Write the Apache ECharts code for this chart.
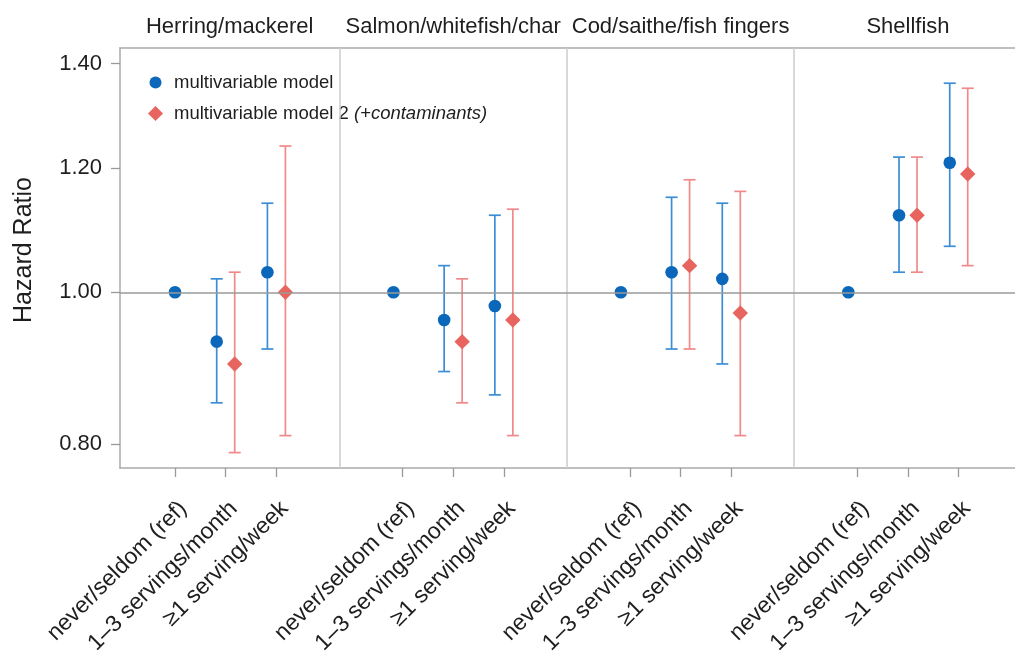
<!DOCTYPE html>
<html>
<head>
<meta charset="utf-8">
<script src="https://cdn.jsdelivr.net/npm/echarts@6/dist/echarts.min.js"></script>
<style>html,body{margin:0;padding:0;background:#fff}#c{width:1015px;height:651px}</style>
</head>
<body>
<div id="c"></div>
<script>
// ---- data ----
const panels = ['Herring/mackerel', 'Salmon/whitefish/char', 'Cod/saithe/fish fingers', 'Shellfish'];
const categories = ['never/seldom (ref)', '1\u20133 servings/month', '\u22651 serving/week'];
const seriesNames = ['multivariable model', 'multivariable model 2 (+contaminants)'];
const yTicks = [0.80, 1.00, 1.20, 1.40];
// values panel-major: [panel0 cat0, cat1, cat2, panel1 cat0, ...]
const m1HR = [1.00, 0.93, 1.03,  1.00, 0.96, 0.98,  1.00, 1.03, 1.02,  1.00, 1.12, 1.21];
const m1Lo = [null, 0.85, 0.92,  null, 0.89, 0.86,  null, 0.92, 0.90,  null, 1.03, 1.07];
const m1Hi = [null, 1.02, 1.14,  null, 1.04, 1.12,  null, 1.15, 1.14,  null, 1.22, 1.36];
const m2HR = [null, 0.90, 1.00,  null, 0.93, 0.96,  null, 1.04, 0.97,  null, 1.12, 1.19];
const m2Lo = [null, 0.79, 0.81,  null, 0.85, 0.81,  null, 0.92, 0.81,  null, 1.03, 1.04];
const m2Hi = [null, 1.03, 1.24,  null, 1.02, 1.13,  null, 1.18, 1.16,  null, 1.22, 1.35];

// ---- layout constants ----
const PANEL_SPAN = 4.486;
const X_MIN = -1.085, X_MAX = 16.568;
const Y_MIN_HR = 0.7723, Y_MAX_HR = 1.4323;
const REF_SHIFT = [0, -9, -9, -9];
const SHIFT = 9;
const FONT = '"Liberation Sans", Arial, sans-serif';
const TXT = '#1e1e1e';
const blueMark = '#0b67b9', blueLine = '#3b8ed6';
const redMark = '#e8645f', redLine = '#f08a8a';

const ln = v => (v == null ? NaN : Math.log(v));
const xPos = (p, c) => p * PANEL_SPAN + c;

const catPositions = [], catLabelMap = {};
panels.forEach((_, p) => categories.forEach((c, ci) => {
  const v = xPos(p, ci); catPositions.push(v); catLabelMap[v.toFixed(3)] = c;
}));
const separators = panels.slice(0, -1).map((_, p) => xPos(p, 1) + PANEL_SPAN / 2);
// panel titles centred on the visible part of each panel
const panelCenters = panels.map((_, p) => {
  const lo = Math.max(X_MIN, xPos(p, 1) - PANEL_SPAN / 2);
  const hi = xPos(p, 1) + PANEL_SPAN / 2;
  return (lo + hi) / 2;
});
const panelLabelMap = {};
panels.forEach((n, p) => panelLabelMap[panelCenters[p].toFixed(3)] = n);

function buildData(hr, lo, hi) {
  return hr.map((v, i) => [catPositions[i], ln(v), ln(lo[i]), ln(hi[i])]);
}

function makeRender(kind) {
  return function (params, api) {
    const i = params.dataIndex;
    const y = api.value(1);
    if (isNaN(y)) return null;
    const x = api.value(0);
    const panel = Math.floor(i / 3), cat = i % 3;
    const shift = kind === 1 ? (cat === 0 ? REF_SHIFT[panel] : -SHIFT) : SHIFT;
    const pt = api.coord([x, y]);
    const cx = pt[0] + shift, cy = pt[1];
    const children = [];
    const lineColor = kind === 1 ? blueLine : redLine;
    const markColor = kind === 1 ? blueMark : redMark;
    const lo = api.value(2), hi = api.value(3);
    if (!isNaN(lo) && !isNaN(hi)) {
      const yl = api.coord([x, lo])[1], yh = api.coord([x, hi])[1];
      const ls = { stroke: lineColor, lineWidth: 1.7 };
      children.push({ type: 'line', shape: { x1: cx, y1: yl, x2: cx, y2: yh }, style: ls });
      children.push({ type: 'line', shape: { x1: cx - 6, y1: yl, x2: cx + 6, y2: yl }, style: ls });
      children.push({ type: 'line', shape: { x1: cx - 6, y1: yh, x2: cx + 6, y2: yh }, style: ls });
    }
    if (kind === 1) {
      children.push({ type: 'circle', shape: { cx: cx, cy: cy, r: 6.3 }, style: { fill: markColor } });
    } else {
      const h = 7.7;
      children.push({ type: 'polygon', shape: { points: [[cx, cy - h], [cx + h, cy], [cx, cy + h], [cx - h, cy]] }, style: { fill: markColor } });
    }
    return { type: 'group', children: children };
  };
}

const circleIcon = 'path://M0,0M15,15M1.5,7.5A6,6 0 1,1 13.5,7.5A6,6 0 1,1 1.5,7.5Z';
const diamondIcon = 'path://M7.5,0L15,7.5L7.5,15L0,7.5Z';

const chart = echarts.init(document.getElementById('c'), null, { renderer: 'canvas' });
chart.setOption({
  animation: false,
  backgroundColor: '#fff',
  textStyle: { fontFamily: FONT },
  grid: { left: 120, right: 0, top: 48, bottom: 183, containLabel: false, outerBoundsMode: 'none' },
  legend: {
    orient: 'vertical', left: 148, top: 73, itemGap: 12, padding: 0,
    itemWidth: 15, itemHeight: 15,
    data: [{ name: seriesNames[0], icon: circleIcon }, { name: seriesNames[1], icon: diamondIcon }],
    formatter: function (n) {
      if (n === seriesNames[1]) return '{a|multivariable model 2 }{b|(+contaminants)}';
      return '{a|' + n + '}';
    },
    textStyle: {
      color: TXT, fontSize: 18.5, fontFamily: FONT,
      rich: {
        a: { fontSize: 18.5, fontFamily: FONT, color: TXT, padding: [0, 0, 0, 6] },
        b: { fontSize: 18.5, fontFamily: FONT, fontStyle: 'italic', color: TXT }
      }
    }
  },
  xAxis: [{
    type: 'value', min: X_MIN, max: X_MAX, position: 'bottom',
    axisLine: { show: true, onZero: false, lineStyle: { color: '#aaaaaa', width: 1.5 } },
    axisTick: { show: true, length: 9, lineStyle: { color: '#999999', width: 1.3 }, customValues: catPositions },
    axisLabel: {
      rotate: 45, margin: 29, color: TXT, fontSize: 23, fontFamily: FONT,
      verticalAlign: 'top',
      customValues: catPositions,
      formatter: v => catLabelMap[Number(v).toFixed(3)] || ''
    },
    splitLine: { show: false }
  }, {
    type: 'value', min: X_MIN, max: X_MAX, position: 'top',
    axisLine: { show: true, onZero: false, lineStyle: { color: '#aaaaaa', width: 1.5 } },
    axisTick: { show: false },
    axisLabel: {
      margin: 10, color: TXT, fontSize: 22, fontFamily: FONT,
      customValues: panelCenters,
      formatter: v => panelLabelMap[Number(v).toFixed(3)] || ''
    },
    splitLine: { show: false }
  }],
  yAxis: {
    type: 'value', min: Math.log(Y_MIN_HR), max: Math.log(Y_MAX_HR),
    name: 'Hazard Ratio', nameLocation: 'middle', nameGap: 83, nameRotate: 90,
    nameMoveOverlap: false,
    nameTextStyle: { color: TXT, fontSize: 25, fontFamily: FONT, padding: [0, 0, 0, 16] },
    axisLine: { show: true, onZero: false, lineStyle: { color: '#aaaaaa', width: 1.5 } },
    axisTick: { show: true, length: 9, lineStyle: { color: '#999999', width: 1.3 }, customValues: yTicks.map(Math.log) },
    axisLabel: {
      margin: 18, color: TXT, fontSize: 22, fontFamily: FONT,
      customValues: yTicks.map(Math.log),
      formatter: v => Math.exp(v).toFixed(2)
    },
    splitLine: { show: false }
  },
  series: [
    {
      type: 'line', data: [], silent: true, symbol: 'none',
      markLine: {
        silent: true, symbol: 'none', label: { show: false }, animation: false,
        data: separators.map(s => ({ xAxis: s, lineStyle: { color: '#cccccc', width: 1.5, type: 'solid' } }))
          .concat([{ yAxis: 0, lineStyle: { color: '#9a9a9a', width: 1.5, type: 'solid' } }])
      }
    },
    {
      name: seriesNames[0], type: 'custom', itemStyle: { color: blueMark },
      renderItem: makeRender(1), data: buildData(m1HR, m1Lo, m1Hi), encode: { x: 0, y: 1 }, z: 3
    },
    {
      name: seriesNames[1], type: 'custom', itemStyle: { color: redMark },
      renderItem: makeRender(2), data: buildData(m2HR, m2Lo, m2Hi), encode: { x: 0, y: 1 }, z: 4
    }
  ]
});
</script>
</body>
</html>
